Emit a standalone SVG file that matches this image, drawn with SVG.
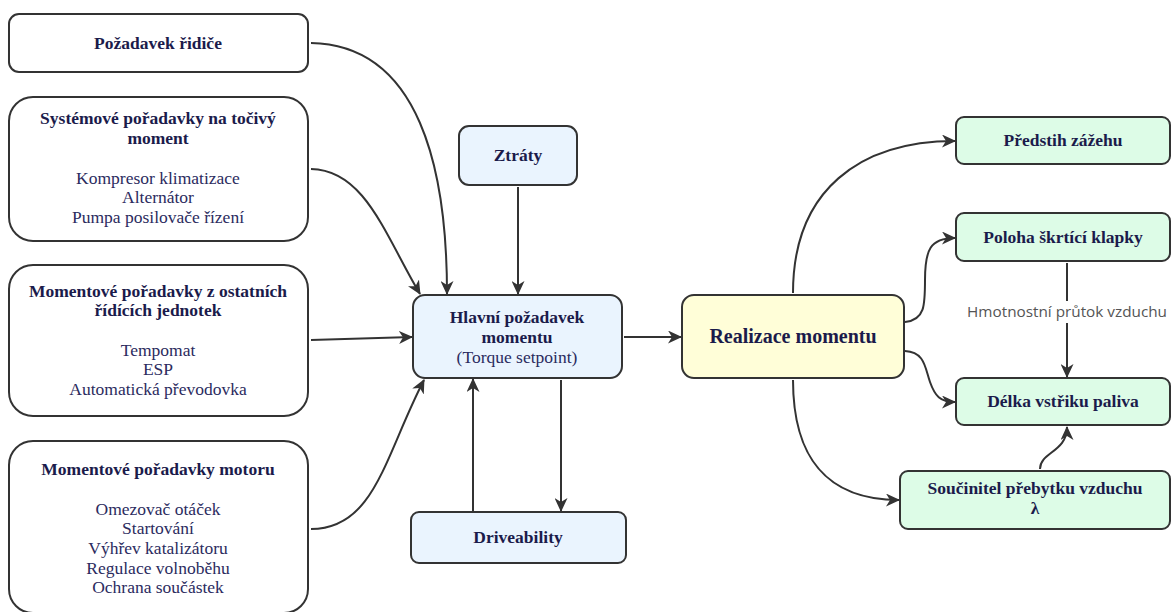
<svg xmlns="http://www.w3.org/2000/svg" width="1172" height="612" viewBox="0 0 1172 612">
<defs>
<marker id="ah" viewBox="0 0 14 13" refX="13" refY="6.5" markerWidth="14" markerHeight="13" markerUnits="userSpaceOnUse" orient="auto">
<path d="M0,0 L14,6.5 L0,13 L4,6.5 z" fill="#333"/>
</marker>
<style>
.box{stroke:#333;stroke-width:2}
.w{fill:#fff}
.b{fill:#eaf4fe}
.y{fill:#fffed8}
.g{fill:#ddfce7}
text{font-family:'Liberation Serif','Times New Roman','DejaVu Serif',serif}
.t{font-weight:bold;font-size:17.5px;fill:#1b1b4b;text-anchor:middle}
.i{font-size:17.5px;fill:#2b2b5e;text-anchor:middle}
.big{font-size:20px}
text.lbl{font-family:'Open Sans','Noto Sans',sans-serif;font-size:15.3px;fill:#555;text-anchor:middle}
.c{fill:none;stroke:#333;stroke-width:2;marker-end:url(#ah)}
</style>
</defs>
<rect width="1172" height="612" fill="#fff"/>
<g id="connectors">
<path class="c" d="M311,43 C420,45 447,170 447,294"/>
<path class="c" d="M311,169 C365,170 385,235 420,294"/>
<path class="c" d="M311,340 L412,337"/>
<path class="c" d="M311,529 C375,529 385,455 424,380"/>
<path class="c" d="M518,187 L518,294"/>
<path class="c" d="M561,380 L561,511"/>
<path class="c" d="M473,511 L473,379"/>
<path class="c" d="M624,337 L681,337"/>
<path class="c" d="M793,293 C793,190 860,141 955,141"/>
<path class="c" d="M905,322 C925,320 925,305 925,280 C925,250 930,238 955,238"/>
<path class="c" d="M905,351 C925,352 925,368 930,382 C935,396 940,402 955,402"/>
<path class="c" d="M793,380 C793,455 825,500 899,500"/>
<path class="c" d="M1067,263 L1067,377"/>
<path class="c" d="M1040,469 C1040,452 1067,452 1067,427"/>
</g>
<g id="label-air">
<rect x="964" y="301" width="206" height="22" fill="#fff"/>
<text class="lbl" x="1067" y="317">Hmotnostní průtok vzduchu</text>
</g>
<g id="n-ridic">
<rect class="box w" x="9" y="14" width="299" height="58" rx="10"/>
<text class="t" x="158" y="49">Požadavek řidiče</text>
</g>
<g id="n-system">
<rect class="box w" x="9" y="97" width="299" height="144" rx="24"/>
<text class="t" x="158" y="124">Systémové pořadavky na točivý</text>
<text class="t" x="158" y="144">moment</text>
<text class="i" x="158" y="184">Kompresor klimatizace</text>
<text class="i" x="158" y="203">Alternátor</text>
<text class="i" x="158" y="223">Pumpa posilovače řízení</text>
</g>
<g id="n-ostatni">
<rect class="box w" x="9" y="265" width="299" height="151" rx="24"/>
<text class="t" x="158" y="297">Momentové pořadavky z ostatních</text>
<text class="t" x="158" y="316">řídících jednotek</text>
<text class="i" x="158" y="356">Tempomat</text>
<text class="i" x="158" y="375">ESP</text>
<text class="i" x="158" y="395">Automatická převodovka</text>
</g>
<g id="n-motor">
<rect class="box w" x="9" y="441" width="299" height="172" rx="24"/>
<text class="t" x="158" y="475">Momentové pořadavky motoru</text>
<text class="i" x="158" y="515">Omezovač otáček</text>
<text class="i" x="158" y="534">Startování</text>
<text class="i" x="158" y="554">Výhřev katalizátoru</text>
<text class="i" x="158" y="574">Regulace volnoběhu</text>
<text class="i" x="158" y="593">Ochrana součástek</text>
</g>
<g id="n-ztraty">
<rect class="box b" x="459" y="126" width="118" height="59" rx="10"/>
<text class="t" x="518" y="161">Ztráty</text>
</g>
<g id="n-hlavni">
<rect class="box b" x="413" y="295" width="209" height="83" rx="12"/>
<text class="t" x="517" y="323">Hlavní požadavek</text>
<text class="t" x="517" y="343">momentu</text>
<text class="i" x="517" y="363">(Torque setpoint)</text>
</g>
<g id="n-drive">
<rect class="box b" x="411" y="512" width="215" height="51" rx="8"/>
<text class="t" x="518" y="543">Driveability</text>
</g>
<g id="n-realizace">
<rect class="box y" x="682" y="295" width="222" height="83" rx="12"/>
<text class="t big" x="793" y="343">Realizace momentu</text>
</g>
<g id="n-predstih">
<rect class="box g" x="956" y="117" width="214" height="47" rx="8"/>
<text class="t" x="1063" y="146">Předstih zážehu</text>
</g>
<g id="n-poloha">
<rect class="box g" x="956" y="213" width="214" height="48" rx="8"/>
<text class="t" x="1063" y="243">Poloha škrtící klapky</text>
</g>
<g id="n-delka">
<rect class="box g" x="956" y="378" width="214" height="47" rx="8"/>
<text class="t" x="1063" y="407">Délka vstřiku paliva</text>
</g>
<g id="n-soucinitel">
<rect class="box g" x="900" y="471" width="270" height="58" rx="8"/>
<text class="t" x="1035" y="494">Součinitel přebytku vzduchu</text>
<text class="t" x="1035" y="514">λ</text>
</g>
</svg>
